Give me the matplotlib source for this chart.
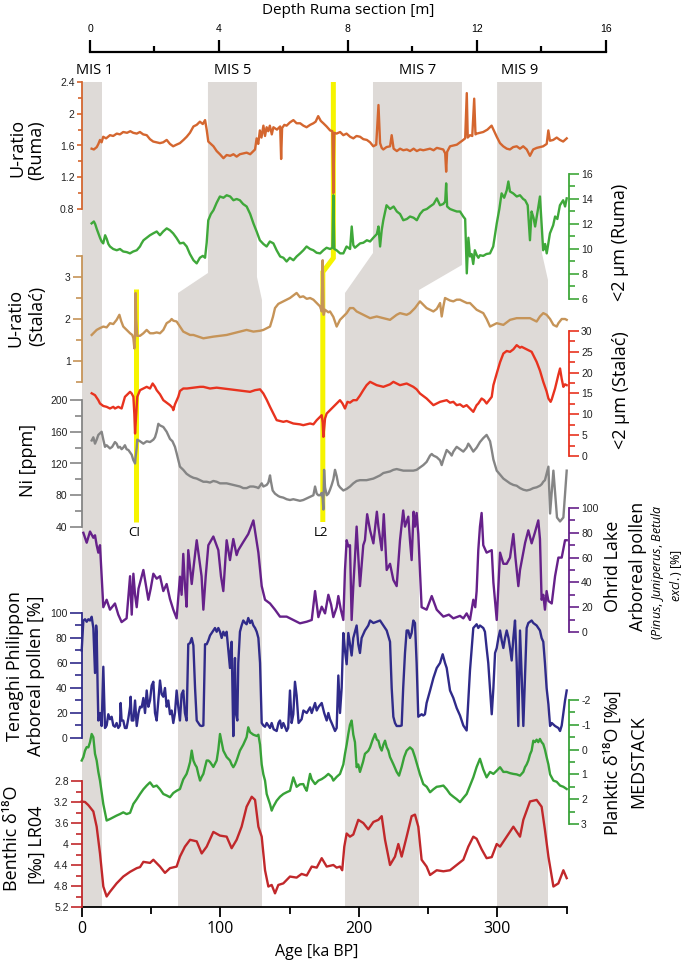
import matplotlib
matplotlib.use('Agg')
import matplotlib.pyplot as plt
from matplotlib.ticker import FixedLocator, FuncFormatter
from matplotlib.patches import Polygon
import numpy as np

plt.rcParams['font.family'] = ['Open Sans', 'DejaVu Sans']
plt.rcParams['axes.unicode_minus'] = False
plt.rcParams['mathtext.fontset'] = 'custom'
plt.rcParams['mathtext.it'] = 'Open Sans:italic'
plt.rcParams['mathtext.rm'] = 'Open Sans'

# ---------------- data ----------------
# Ruma section (x = depth in m)
ruma_u_depth = [0.05,0.12,0.21,0.26,0.31,0.36,0.41,0.50,0.62,0.72,
                0.83,0.93,1.03,1.15,1.25,1.34,1.45,1.55,1.65,1.76,
                1.86,1.96,2.07,2.17,2.27,2.38,2.48,2.58,2.68,2.79,
                2.90,3.00,3.10,3.21,3.31,3.41,3.50,3.57,3.62,3.67,
                3.75,3.83,3.93,4.03,4.14,4.24,4.35,4.45,4.55,4.65,
                4.75,4.86,4.97,5.07,5.12,5.17,5.22,5.27,5.32,5.38,
                5.43,5.48,5.53,5.58,5.64,5.69,5.80,5.90,5.93,5.96,
                6.03,6.10,6.20,6.31,6.41,6.52,6.62,6.72,6.83,6.93,
                7.00,7.08,7.16,7.24,7.34,7.45,7.52,7.55,7.58,7.65,
                7.76,7.86,7.96,8.07,8.17,8.27,8.38,8.48,8.59,8.69,
                8.79,8.88,8.95,9.00,9.05,9.10,9.20,9.31,9.36,9.42,
                9.52,9.62,9.72,9.83,9.93,10.04,10.14,10.24,10.34,10.45,
                10.55,10.66,10.76,10.86,10.96,11.02,11.05,11.08,11.17,11.27,
                11.38,11.48,11.58,11.64,11.69,11.72,11.79,11.86,11.92,11.96,
                12.00,12.10,12.20,12.33,12.46,12.54,12.62,12.72,12.82,12.93,
                13.03,13.13,13.24,13.34,13.44,13.55,13.65,13.75,13.86,13.96,
                14.06,14.17,14.22,14.27,14.37,14.48,14.58,14.68,14.79]
ruma_u = [1.56,1.55,1.58,1.62,1.67,1.64,1.71,1.69,1.73,1.72,
          1.75,1.74,1.77,1.76,1.78,1.76,1.75,1.77,1.74,1.73,
          1.68,1.65,1.64,1.63,1.64,1.67,1.62,1.59,1.61,1.63,
          1.67,1.71,1.76,1.84,1.86,1.90,1.87,1.92,1.80,1.65,
          1.62,1.59,1.53,1.49,1.44,1.48,1.47,1.49,1.46,1.49,
          1.50,1.51,1.49,1.53,1.55,1.69,1.62,1.79,1.70,1.85,
          1.72,1.83,1.78,1.85,1.74,1.83,1.80,1.84,1.43,1.82,
          1.86,1.85,1.89,1.92,1.88,1.88,1.85,1.83,1.86,1.88,
          1.90,1.97,1.91,1.88,1.84,1.79,1.78,1.00,1.76,1.75,
          1.77,1.73,1.75,1.71,1.69,1.72,1.71,1.68,1.67,1.64,
          1.59,1.61,2.11,1.63,1.57,1.55,1.58,1.59,1.73,1.56,
          1.53,1.56,1.54,1.55,1.53,1.56,1.53,1.55,1.54,1.55,
          1.56,1.54,1.57,1.56,1.55,1.50,1.27,1.52,1.59,1.60,
          1.61,1.64,1.67,1.69,2.26,1.70,1.73,1.72,2.19,1.74,
          1.75,1.76,1.77,1.80,1.85,1.78,1.71,1.63,1.59,1.56,
          1.55,1.58,1.59,1.56,1.59,1.55,1.47,1.55,1.57,1.58,
          1.59,1.62,1.79,1.66,1.67,1.70,1.67,1.65,1.69]

ruma_clay_depth = [0.05,0.12,0.16,0.21,0.26,0.31,0.36,0.41,0.47,0.52,
                   0.57,0.62,0.72,0.83,0.93,1.03,1.14,1.24,1.34,1.45,
                   1.55,1.60,1.66,1.76,1.86,1.96,2.07,2.17,2.27,2.38,
                   2.48,2.58,2.68,2.79,2.90,3.00,3.10,3.21,3.31,3.41,
                   3.50,3.57,3.62,3.67,3.75,3.83,3.93,4.03,4.14,4.24,
                   4.35,4.45,4.55,4.65,4.75,4.86,4.97,5.07,5.17,5.27,
                   5.38,5.48,5.58,5.69,5.79,5.90,6.00,6.10,6.20,6.31,
                   6.41,6.52,6.62,6.72,6.83,6.93,7.03,7.14,7.24,7.34,
                   7.45,7.52,7.55,7.58,7.65,7.76,7.86,7.96,8.07,8.12,
                   8.17,8.22,8.38,8.48,8.59,8.69,8.79,8.90,8.95,9.00,
                   9.05,9.10,9.20,9.31,9.42,9.52,9.62,9.72,9.83,9.93,
                   10.04,10.14,10.24,10.34,10.45,10.55,10.66,10.76,10.86,10.96,
                   11.02,11.05,11.08,11.17,11.27,11.38,11.48,11.58,11.64,11.69,
                   11.74,11.79,11.84,11.89,11.94,12.00,12.05,12.10,12.20,12.30,
                   12.41,12.51,12.62,12.70,12.77,12.85,12.93,12.98,13.03,13.13,
                   13.24,13.34,13.44,13.50,13.58,13.65,13.70,13.76,13.81,13.90,
                   13.96,14.01,14.06,14.12,14.17,14.27,14.37,14.43,14.50,14.58,
                   14.68,14.74,14.79]
ruma_clay = [12.05,12.2,12.0,11.6,11.25,10.9,10.6,10.45,11.1,10.8,
             10.4,10.2,10.0,9.9,10.0,9.8,9.75,9.65,9.8,9.9,
             10.2,10.45,10.7,10.9,11.1,11.25,11.4,11.1,11.4,11.65,
             11.5,11.25,10.9,10.45,10.5,10.2,9.6,9.1,8.85,9.3,
             9.45,9.3,10.5,12.3,12.8,13.1,13.7,14.2,14.1,14.3,
             14.2,13.9,14.0,13.9,13.6,13.4,12.8,12.05,11.4,10.7,
             10.4,10.2,10.6,10.45,9.9,9.4,9.3,9.0,9.3,9.1,
             9.4,9.65,9.9,10.2,10.0,9.9,9.7,9.65,9.9,10.1,
             10.0,10.1,14.3,10.0,9.9,9.65,9.65,10.2,10.0,11.8,
             10.3,10.1,10.45,10.5,10.7,10.6,10.9,11.2,11.8,10.2,
             11.5,12.3,13.5,13.2,13.4,13.0,12.8,12.3,12.4,12.6,
             12.5,12.3,12.8,13.1,13.2,13.4,13.6,14.05,13.5,13.6,
             13.8,15.25,13.4,13.2,13.1,13.0,13.0,12.6,12.4,8.05,
             10.9,9.4,9.6,8.8,9.9,9.5,9.3,9.5,9.45,9.6,
             9.65,10.2,12.05,13.2,14.45,14.1,14.7,15.4,14.6,14.45,
             14.2,14.3,14.0,13.9,13.5,10.7,13.0,12.5,11.8,13.2,
             14.2,12.0,9.9,10.4,9.65,11.25,11.9,12.6,12.4,13.5,
             13.9,13.4,14.05]

# Stalac section (x = age in ka)
stalac_u_age = [7.2,9.0,10.8,13.0,15.6,18.0,20.4,22.8,25.2,27.2,
                28.5,30.0,32.5,34.9,36.5,37.3,38.0,38.5,38.9,39.3,
                40.1,42.1,44.5,46.9,49.3,51.7,54.1,56.5,58.9,61.3,
                63.7,64.9,66.1,68.5,70.9,73.3,75.7,78.2,80.6,84.2,
                87.8,91.4,95.0,99.8,104.6,109.4,114.2,119.0,123.9,128.7,
                131.1,133.5,135.9,138.0,139.5,141.9,145.5,147.9,150.3,152.7,
                155.1,157.5,159.9,162.4,164.8,167.2,169.6,172.0,173.2,173.9,
                174.6,175.6,178.0,179.2,181.6,184.0,186.4,188.8,191.2,193.6,
                196.0,198.4,200.8,204.4,208.1,212.9,217.7,222.5,227.3,229.7,
                234.5,236.9,240.5,244.1,246.5,248.9,251.4,253.8,256.2,258.6,
                259.8,261.0,262.2,265.8,268.2,270.6,273.0,275.4,278.0,280.2,
                282.6,285.0,287.4,289.8,292.2,294.7,297.1,299.5,301.9,304.3,
                306.7,309.1,313.9,318.7,323.5,328.3,330.7,333.1,335.5,338.0,
                340.4,342.8,344.0,346.4,348.8,350.0]
stalac_u = [1.62,1.68,1.74,1.78,1.82,1.80,1.90,1.88,1.98,2.10,
            1.95,1.82,1.74,1.66,1.62,1.54,1.30,1.60,2.62,2.00,
            1.60,1.60,1.66,1.74,1.66,1.66,1.68,1.66,1.74,1.90,
            1.95,2.00,1.96,1.94,1.82,1.70,1.66,1.62,1.62,1.58,
            1.54,1.56,1.58,1.60,1.62,1.66,1.70,1.74,1.70,1.72,
            1.74,1.78,1.82,2.05,2.26,2.36,2.42,2.46,2.50,2.56,
            2.62,2.52,2.54,2.48,2.50,2.46,2.38,2.30,2.18,3.40,
            2.10,2.22,2.16,2.18,2.05,1.82,1.98,2.06,2.14,2.26,
            2.26,2.18,2.14,2.08,2.02,2.06,2.02,1.98,2.10,2.14,
            2.10,2.14,2.26,2.42,2.34,2.26,2.22,2.18,2.24,2.38,
            2.06,2.30,2.50,2.44,2.42,2.46,2.46,2.42,2.38,2.38,
            2.30,2.22,2.18,2.14,2.00,1.82,1.86,1.90,1.88,1.86,
            1.92,1.98,2.02,2.02,2.02,1.94,2.06,2.14,2.10,2.00,
            1.86,1.82,1.90,2.00,2.00,1.98]

stalac_clay_age = [7.2,9.6,12.0,13.2,15.6,18.0,20.4,22.8,24.0,26.4,
                   28.8,31.2,33.0,34.9,36.1,37.3,38.0,38.5,39.3,40.1,
                   42.1,44.5,46.9,49.3,51.2,52.9,54.1,56.5,58.9,61.3,
                   63.7,65.5,66.1,67.3,69.7,70.9,73.3,76.0,80.6,85.4,
                   87.8,92.6,97.4,102.2,107.0,111.8,116.6,121.5,125.1,128.7,
                   131.1,133.5,135.9,138.3,140.7,143.1,145.5,147.9,152.7,157.5,
                   159.9,162.4,164.8,167.2,169.6,172.0,173.2,173.9,174.4,175.6,
                   176.8,179.2,181.6,184.0,186.4,188.2,190.0,191.8,193.6,196.0,
                   198.4,200.8,203.2,205.6,208.1,210.5,212.9,215.3,217.7,220.1,
                   222.5,224.9,227.3,229.7,232.1,234.5,236.9,239.3,241.7,244.1,
                   246.5,248.9,251.4,253.8,256.2,258.6,261.0,263.4,265.8,268.2,
                   270.6,273.0,275.4,277.8,279.0,280.2,282.6,285.0,286.2,288.6,
                   290.4,292.2,295.9,297.1,299.5,301.9,304.3,306.7,309.1,311.5,
                   313.9,316.3,317.5,319.9,322.3,324.7,328.3,330.7,333.1,335.5,
                   336.8,338.4,339.2,341.6,344.0,345.2,346.4,347.6,348.8,350.0]
stalac_clay = [15.05,14.6,13.4,12.6,12.0,11.8,11.4,11.8,11.4,11.8,
               11.4,14.2,14.8,15.4,15.0,14.2,10.0,5.4,10.0,14.2,
               15.8,16.2,16.6,16.2,17.4,16.6,15.8,14.8,13.4,12.8,
               12.2,11.6,11.0,12.4,14.2,15.6,16.2,16.2,16.4,16.6,
               16.6,16.2,16.4,16.2,16.0,15.8,15.6,15.4,15.8,16.0,
               15.0,13.5,11.8,10.2,8.6,8.4,8.2,8.4,7.8,7.6,
               7.4,7.6,7.8,7.6,8.6,9.4,9.8,8.0,4.6,9.0,
               10.2,11.0,11.8,12.6,13.4,12.6,11.4,13.0,12.8,13.4,
               13.4,14.5,15.8,17.0,17.8,17.4,17.0,16.8,16.6,16.9,
               17.2,17.8,17.4,17.0,17.2,17.4,17.0,16.6,16.0,15.0,
               14.4,13.8,13.0,12.2,12.6,13.0,13.2,13.4,12.8,13.0,
               12.2,12.4,11.8,12.2,11.8,11.4,10.6,12.2,12.6,13.8,
               13.4,12.6,14.2,17.0,19.8,22.5,24.6,25.2,25.0,25.6,
               26.6,26.0,26.2,25.8,25.4,25.0,22.6,20.5,17.8,15.5,
               13.8,13.0,13.6,16.2,19.5,21.0,18.5,16.6,17.2,17.0]

ni_age = [7.2,8.4,9.6,10.8,12.0,13.2,14.4,15.6,16.8,18.0,
          20.4,22.0,24.0,25.2,26.4,27.6,28.8,30.0,31.2,32.4,
          33.7,34.9,36.1,37.3,38.0,38.5,38.9,39.7,40.1,42.1,
          44.5,46.9,49.3,51.7,52.9,54.1,55.3,56.5,58.9,61.3,
          63.7,65.5,67.3,68.5,70.9,73.3,75.7,78.2,80.6,83.0,
          85.4,87.8,90.2,92.6,95.0,97.4,99.8,102.2,104.6,107.0,
          109.4,111.8,114.2,116.6,119.0,121.5,123.9,126.3,127.5,128.7,
          129.9,131.1,132.3,133.5,134.7,135.9,136.5,137.8,139.5,141.9,
          143.1,145.5,147.9,150.3,152.7,155.1,157.5,159.9,162.4,164.8,
          166.0,167.2,168.4,169.6,170.8,172.0,173.2,173.9,174.4,174.9,
          175.6,176.8,178.0,179.2,180.4,181.6,182.8,184.0,185.2,186.4,
          188.8,191.2,193.6,196.0,198.4,200.8,203.2,205.6,208.1,210.5,
          212.9,215.3,217.7,220.1,222.5,224.9,227.3,229.7,232.1,234.5,
          236.9,239.3,241.7,244.1,246.5,248.9,251.4,252.6,253.8,256.2,
          258.6,259.8,261.0,263.4,265.8,267.0,268.2,270.6,273.0,275.4,
          277.8,279.0,280.2,282.6,285.0,287.4,289.8,292.2,294.7,295.9,
          297.1,299.5,301.9,304.3,306.7,309.1,311.5,313.9,316.3,318.7,
          321.1,323.5,325.9,328.3,330.7,332.0,333.1,334.3,336.8,338.0,
          340.4,343.0,345.2,347.6,350.0]
ni = [149,153,145,150,156,158,160,150,141,143,
      139,141,147,145,140,141,138,140,143,138,
      137,134,131,124,122,120,128,140,150,148,
      145,148,147,150,153,160,170,168,166,160,
      151,148,141,133,116,112,107,104,102,101,
      99,97,97,96,98,97,95,95,95,94,
      93,92,91,89,89,91,91,90,89,92,
      95,91,92,93,96,105,98,86,82,79,
      78,77,75,74,75,74,73,74,76,78,
      79,80,91,82,80,80,83,76,62,112,
      90,80,82,87,93,100,112,104,93,90,
      86,88,91,95,98,99,99,99,100,101,
      103,105,108,109,110,112,113,112,111,111,
      111,111,112,115,118,122,130,132,130,128,
      124,118,125,137,133,130,135,141,138,135,
      140,145,142,135,140,147,152,156,148,137,
      125,111,106,101,98,95,93,92,89,87,
      86,87,89,90,92,94,97,99,116,57,
      111,52,47,52,111]

ohrid_age = [1.2,3.6,6.0,8.4,9.6,10.8,12.0,13.2,15.6,18.0,
             20.4,24.0,26.4,28.8,30.0,32.4,34.9,35.5,36.1,37.3,
             38.5,39.7,41.0,44.5,46.0,48.1,49.8,51.7,54.1,56.5,
             58.9,61.3,63.7,66.1,68.5,70.9,72.1,73.3,74.5,75.7,
             76.9,79.4,81.0,83.0,86.5,87.8,89.5,91.4,95.0,98.6,
             100.5,102.2,104.6,107.0,109.4,111.8,113.0,116.6,120.2,123.9,
             127.5,129.9,132.3,135.9,139.5,143.1,147.9,152.7,157.5,162.4,
             166.0,168.4,170.8,173.2,175.6,178.0,180.0,181.6,184.0,185.2,
             187.0,188.8,190.0,191.2,192.4,193.6,194.8,196.0,197.2,198.4,
             200.8,203.2,204.4,206.0,208.1,210.5,213.0,214.1,216.5,218.0,
             220.1,222.5,224.9,227.3,229.7,232.0,233.3,235.7,236.9,238.1,
             239.5,240.5,241.7,242.9,245.3,248.9,252.6,256.2,261.0,265.0,
             268.2,273.0,275.4,277.8,280.2,282.6,284.0,285.0,286.2,287.4,
             288.6,289.8,292.2,295.9,297.1,299.5,301.9,304.3,306.7,309.1,
             311.5,313.0,315.1,316.3,318.7,320.0,322.3,324.7,327.0,329.5,
             330.7,331.9,333.1,334.3,335.5,336.8,339.2,341.6,344.0,346.4,
             348.8,350.0]
ohrid = [80,72,81,76,78,70,64,70,20,26,
         18,23,14,8,9,11,45,30,14,47,
         30,20,35,50,40,26,35,47,43,45,
         33,38.7,26.6,18,11,44.6,30,63,38,20.4,
         66,38.7,55,74,45,18,45,70,77,66,
         45,33,74,58,75,62,66,72.6,79,90,
         64,37,26,23,18,12.4,12.4,9.7,7,8.3,
         9.7,33,12,20.4,15,30,22,12,20,29,
         18,9.7,50,74,69,70,9.7,37,60,85,
         37,70,74,95,82,71.5,97,85,66,95,
         50,55,42,37,74,98,85,93,74,58,
         97,85,96,79,20,18,29,18,12.4,14,
         11,13,11,15,9.7,26,20,33,66,85,
         96,70,64,66,40,9.7,64,55,55,60,
         79,60,37,50,64,72,82,71.5,80,90,
         75,26,30,18,33,25,23,45,60,60,
         74,74]

tenaghi_age = [0.0,1.2,2.4,3.6,4.8,6.0,7.2,8.4,9.6,10.4,
               10.8,11.5,12.0,13.2,14.4,15.6,16.8,18.0,19.2,20.4,
               21.6,22.8,24.0,25.2,26.4,27.6,28.1,28.8,30.0,31.2,
               32.4,33.7,34.9,35.3,36.1,37.3,38.5,39.7,41.0,42.1,
               43.3,44.5,45.7,46.9,48.1,49.3,50.5,51.7,52.9,54.1,
               55.3,56.5,57.7,58.9,60.1,61.3,62.5,63.7,64.9,66.1,
               67.3,68.5,69.7,70.9,72.1,73.3,74.5,75.7,76.9,78.2,
               79.4,80.6,81.8,83.0,84.2,85.4,86.6,87.8,89.0,90.2,
               91.4,92.6,95.0,96.2,97.4,98.6,99.8,101.0,102.2,103.4,
               104.6,105.8,107.0,107.6,108.2,109.4,110.0,110.6,111.2,112.3,
               113.0,114.2,115.4,116.6,118.0,119.0,120.2,121.5,122.7,123.9,
               125.1,126.3,127.5,128.7,129.9,131.1,132.3,133.5,134.7,135.9,
               137.1,138.5,140.7,142.0,143.1,144.3,145.5,146.7,147.9,149.0,
               150.3,151.5,152.7,153.9,155.1,156.5,158.7,160.0,162.4,164.8,
               166.0,168.4,169.6,171.0,173.2,175.0,176.8,178.0,179.2,180.4,
               182.8,184.0,185.2,186.4,187.6,188.8,190.0,191.2,192.4,193.6,
               194.8,196.0,197.2,198.4,199.6,200.8,202.0,204.4,206.8,208.1,
               210.5,212.9,215.3,217.7,220.1,222.5,223.7,224.9,226.1,227.3,
               229.7,230.9,232.0,233.3,234.5,235.7,236.9,238.1,239.3,240.5,
               241.7,242.9,244.1,245.3,246.5,247.7,248.9,251.4,253.8,256.2,
               258.6,260.5,262.2,263.4,265.8,268.2,270.6,273.0,275.4,277.8,
               279.0,280.2,282.6,285.0,286.2,287.4,289.8,291.0,292.2,293.4,
               295.9,297.1,298.3,299.5,300.7,301.9,303.1,304.3,305.5,306.7,
               308.0,309.1,310.3,311.5,312.7,313.9,315.1,316.3,317.5,318.7,
               319.9,321.1,322.3,323.5,324.7,325.9,327.1,328.3,329.5,330.7,
               331.9,333.1,334.3,335.5,336.8,338.0,339.2,341.6,344.0,345.2,
               346.4,347.6,348.8,350.0]
tenaghi = [70,94,95,93,95,94,97,88,52,90,
           85,40,14,20,9.6,57,8,10,19,15,
           17,10,9,12,8,10,28,14,14,8,
           8,16,25,33,14,14,30,9.6,20,25,
           24.5,32,20,38,25,30,42,45,20,14,
           30,46,35,33,40,25,30,19,22,12,
           20,38,25,14,35,38,20,14,75,76,
           80,74,40,14,12,10,9.6,10,75,75,
           78,82,86,88,85,88,85,80,85,82,
           85,70,56,70,77,1.5,40,64,20,14,
           60,85,90,94,92,91,96,92,94,90,
           88,85,80,60,12,10,9,12,10,8,
           12,7,5.6,12,14,8,12,9,5.6,8,
           38,12,19,45,34,12,15,22,20,24.5,
           20,28,22,25,28,20,14,20,15,12,
           5.6,8,50,20,40,84,70,59,84,75,
           66,80,85,90,75,68,80,86,90,94,
           92,93,94,90,86,77,40,17,12,9.6,
           9.6,10,40,68,86,86,80,84,94,92,
           60,17,18,19,18,19,28,38,48,56,
           60,67,60,56,38,32,24,18,10,6,
           30,54,88,91,88,90,88,85,72,60,
           19,40,68,72,80,86,78,72,80,86,
           80,72,62,80,94,60,9.6,86,50,9.6,
           50,88,92,93,94,92,91,90,88,86,
           80,77,60,40,27,9.6,12,9.6,8,5.6,
           10,20,30,38]

medstack_age = [0.0,1.2,2.4,3.6,4.8,6.0,7.2,8.4,9.6,10.8,
                12.0,13.2,15.6,18.0,20.4,22.8,25.2,27.6,30.0,32.4,
                34.9,37.3,39.7,42.1,44.5,46.9,49.3,51.7,54.1,56.5,
                58.9,61.3,63.7,66.1,68.5,70.9,72.1,73.3,75.7,76.9,
                78.2,79.4,80.6,81.8,83.0,84.2,85.4,86.6,87.8,89.0,
                90.2,91.4,92.6,95.0,97.4,98.6,99.8,101.0,102.2,104.6,
                107.0,108.2,109.4,110.6,111.8,114.2,116.6,119.0,120.2,121.5,
                123.9,126.3,127.5,128.7,129.9,131.1,132.3,133.5,135.9,137.1,
                138.3,140.7,143.1,145.5,147.9,150.3,152.7,155.1,157.5,159.9,
                161.2,162.4,164.8,166.0,168.4,170.8,173.2,175.6,178.0,180.4,
                181.6,184.0,186.4,188.8,190.0,191.2,192.4,193.6,194.8,196.0,
                197.2,198.4,199.6,200.8,203.0,204.4,206.8,208.1,210.0,211.7,
                213.0,214.1,215.3,216.5,217.7,218.9,220.1,221.3,222.5,223.7,
                225.0,227.3,229.0,230.9,232.7,234.5,236.9,238.7,240.5,242.9,
                244.1,246.5,249.0,251.4,253.8,256.2,258.6,261.0,263.4,265.8,
                268.2,270.6,273.0,275.4,277.8,280.2,282.6,285.0,287.4,289.8,
                292.2,294.7,297.1,299.5,301.9,304.3,306.7,309.1,311.5,313.9,
                316.3,318.7,319.9,321.1,322.3,323.5,324.7,325.9,327.1,328.3,
                329.5,330.7,331.9,333.1,334.3,335.5,336.8,338.0,340.4,342.8,
                345.2,347.6,350.0]
medstack = [0.44,0.30,0.04,-0.1,-0.09,-0.3,-0.63,-0.5,0.17,0.44,
            0.9,1.25,2.2,2.86,2.8,2.73,2.66,2.6,2.53,2.6,
            2.55,2.19,2.0,1.79,1.6,1.45,1.32,1.5,1.45,1.6,
            1.79,1.85,1.92,1.75,1.66,1.59,1.4,1.2,0.98,0.77,
            0.5,0.04,0.44,0.6,0.71,1.0,1.25,1.1,0.98,0.7,
            0.44,0.44,0.5,0.7,0.44,0.0,-0.63,-0.3,0.04,0.3,
            0.44,0.6,0.71,0.6,0.44,0.04,-0.2,-0.5,-0.9,-0.7,
            -0.6,-0.55,-0.6,-0.2,0.6,1.0,1.25,1.79,2.2,2.46,
            2.3,2.06,1.9,1.79,1.72,1.66,1.12,1.5,1.4,1.39,
            1.55,1.66,0.98,1.2,1.39,1.25,1.19,1.1,0.98,1.1,
            1.25,1.1,0.98,0.6,0.17,-0.2,-0.63,-1.0,-1.17,-0.6,
            -0.3,0.71,0.6,0.9,0.5,0.17,0.05,-0.09,-0.4,-0.63,
            -0.4,-0.36,-0.1,0.04,-0.2,-0.36,-0.1,0.04,0.3,0.44,
            0.6,0.9,1.05,0.7,0.3,0.04,-0.09,0.0,0.3,0.77,
            1.0,1.39,1.5,1.72,1.6,1.5,1.48,1.45,1.6,1.79,
            1.9,2.0,2.12,1.95,1.79,1.45,1.12,0.7,0.37,0.8,
            1.12,0.9,0.98,0.85,0.71,0.9,0.9,0.95,0.98,1.0,
            1.05,0.9,0.71,0.6,0.44,0.2,0.04,-0.36,-0.3,-0.4,
            -0.3,-0.43,-0.3,-0.22,0.0,0.3,0.6,1.0,1.25,1.3,
            1.45,1.5,1.59]

lr04_age = [0.0,2.4,4.8,8.4,10.8,13.2,15.6,18.0,20.4,25.2,
            30.0,34.9,39.7,42.1,44.5,49.3,51.7,56.5,60.1,63.7,
            68.5,70.9,74.5,78.2,83.0,86.6,90.2,95.0,99.8,104.6,
            108.2,111.8,115.4,119.0,122.7,125.1,127.5,129.9,132.3,134.7,
            137.1,139.5,141.9,145.5,150.3,155.1,158.7,162.4,166.0,169.6,
            173.2,176.8,181.6,184.0,186.4,188.0,189.5,191.2,193.6,196.0,
            199.6,203.2,206.8,210.5,214.1,216.5,218.9,222.5,226.1,228.5,
            230.9,234.5,238.1,240.5,242.9,245.3,248.9,251.4,256.2,261.0,
            265.8,270.6,275.4,279.0,282.6,285.0,288.6,292.2,295.9,299.5,
            301.9,306.7,311.5,316.3,318.7,323.5,328.3,331.9,334.3,336.8,
            340.4,344.0,347.6,350.0]
lr04 = [3.19,3.2,3.26,3.38,3.67,4.18,4.81,5.0,4.91,4.75,
        4.62,4.53,4.46,4.44,4.34,4.36,4.30,4.43,4.55,4.46,
        4.43,4.24,4.05,3.92,3.95,4.18,4.05,3.77,3.84,3.86,
        4.08,3.92,3.67,3.29,3.1,3.16,3.67,3.86,4.5,4.81,
        4.78,4.94,4.78,4.75,4.62,4.64,4.57,4.6,4.43,4.45,
        4.27,4.43,4.4,4.45,4.43,4.5,4.05,3.8,3.86,3.82,
        3.54,3.6,3.72,3.58,3.54,3.47,3.92,4.4,4.24,4.0,
        4.24,3.86,3.47,3.44,3.67,4.3,4.43,4.59,4.5,4.52,
        4.5,4.4,4.3,4.05,3.86,3.9,4.1,4.27,4.25,4.0,
        4.05,3.86,3.67,3.86,3.54,3.19,3.16,3.29,3.73,4.24,
        4.81,4.75,4.5,4.65]

# marine isotope stages: age bounds (lower part) and Ruma depth bounds (upper part)
mis_labels = ['MIS 1', 'MIS 5', 'MIS 7', 'MIS 9']
mis_age = [(0.0, 14.4), (69.5, 130.1), (190.0, 243.4), (299.7, 336.5)]
mis_depth = [(-0.258, 0.363), (3.66, 5.18), (8.78, 11.54), (12.63, 14.02)]
# tephra layers
tephra_labels = ['CI', 'L2']
tephra_age = [39.0, 174.0]
tephra_ruma_depth = 7.55
depth_ticks = [0, 4, 8, 12, 16]
age_ticks = [0, 100, 200, 300]

# ---------------- layout ----------------
W, H = 685, 963
fig = plt.figure(figsize=(W / 100, H / 100), dpi=100)
X0, X1 = 81.7, 566.7          # pixel span of age 0..350
T, B = 82, 907                 # vertical pixel span of data panels
D0, D16 = 90.0, 605.7          # pixel span of depth 0..16 m
PPM = (D16 - D0) / 16.0
AGE_MAX = 350.0


def fx(px):
    return px / W


def fy(py):
    return 1 - py / H


def px2pt(p):
    return p * 72 / 100


pos = [fx(X0), fy(B), fx(X1) - fx(X0), fy(T) - fy(B)]


def depth_to_age(d):
    return (D0 + d * PPM - X0) / (X1 - X0) * AGE_MAX


# background axes: bands, tephra lines, age axis
bg = fig.add_axes(pos)
bg.set_xlim(0, AGE_MAX)
bg.set_ylim(B, T)
for s in ['left', 'right', 'top']:
    bg.spines[s].set_visible(False)
bg.spines['bottom'].set_linewidth(1.3)
bg.set_yticks([])
bg.xaxis.set_major_locator(FixedLocator(age_ticks))
bg.xaxis.set_minor_locator(FixedLocator([50, 150, 250, 350]))
bg.tick_params(axis='x', which='major', length=px2pt(10), width=1.3, labelsize=11.5, pad=3)
bg.tick_params(axis='x', which='minor', length=px2pt(7), width=1.3)

band_col = '#dedad7'
slants = [((280, 280), (280, 280)), ((273, 293), (277, 300)),
          ((253, 293), (265, 290)), ((270, 270), (253, 280))]
for (a0, a1), (d0, d1), ((yl1, yl2), (yr1, yr2)) in zip(mis_age, mis_depth, slants):
    t0, t1 = depth_to_age(d0), depth_to_age(d1)
    poly = Polygon([(t0, T), (t1, T), (t1, yr1), (a1, yr2), (a1, B), (a0, B),
                    (a0, yl2), (t0, yl1)], closed=True, fc=band_col, ec='none', zorder=0)
    bg.add_patch(poly)

for lab, (d0, d1) in zip(mis_labels, mis_depth):
    bg.text((depth_to_age(d0) + depth_to_age(d1)) / 2 + (2 if lab == 'MIS 1' else 0), 70, lab,
            ha='center', va='center', fontsize=10.5, clip_on=False)

yel = '#f6f400'
ylw = px2pt(5)
# CI
bg.plot([tephra_age[0], tephra_age[0]], [289, 522], color=yel, lw=ylw, solid_capstyle='butt', zorder=1)
# L2 (Ruma depth -> Stalac age)
ra = depth_to_age(tephra_ruma_depth)
bg.plot([ra, ra, tephra_age[1], tephra_age[1]], [T, 258, 272, 522], color=yel, lw=ylw,
        solid_capstyle='butt', solid_joinstyle='miter', zorder=1)
for lab, a in zip(tephra_labels, tephra_age):
    bg.text(a - 1, 532, lab, ha='center', va='center', fontsize=9.5)

# depth axis on top
dax = fig.add_axes([fx(D0), fy(52), fx(D16) - fx(D0), 0.0005])
dax.patch.set_visible(False)
dax.set_xlim(0, 16)
for s in ['left', 'right', 'bottom']:
    dax.spines[s].set_visible(False)
dax.spines['top'].set_linewidth(1.6)
dax.set_yticks([])
dax.xaxis.set_ticks_position('top')
dax.xaxis.set_major_locator(FixedLocator(depth_ticks))
dax.xaxis.set_minor_locator(FixedLocator([2, 6, 10, 14]))
dax.tick_params(axis='x', which='major', length=px2pt(12), width=1.6, labelsize=7.5, pad=4,
                labelfontfamily='Liberation Sans')
dax.tick_params(axis='x', which='minor', length=px2pt(6), width=1.6)
fig.text(fx(348), fy(10), 'Depth Ruma section [m]', ha='center', va='center', fontsize=11)

fmt = FuncFormatter(lambda v, p: '%g' % round(v, 3))


def series_axes(side, color, v1, p1, v2, p2, lo, hi, major, mstep, tmaj, tmin, xlim=(0, AGE_MAX)):
    ax = fig.add_axes(pos)
    ax.patch.set_visible(False)
    ax.set_xlim(*xlim)
    slope = (v2 - v1) / (p2 - p1)
    ax.set_ylim(v1 + (B - p1) * slope, v1 + (T - p1) * slope)
    for s in ax.spines.values():
        s.set_visible(False)
    sp = ax.spines[side]
    sp.set_visible(True)
    sp.set_color(color)
    sp.set_linewidth(1.3)
    sp.set_bounds(lo, hi)
    if side == 'right':
        sp.set_position(('outward', 1.7))
    ax.xaxis.set_visible(False)
    ax.yaxis.set_ticks_position(side)
    ax.yaxis.set_label_position(side)
    ax.yaxis.set_major_locator(FixedLocator(major))
    ax.yaxis.set_minor_locator(FixedLocator(np.arange(lo, hi + mstep / 100, mstep)))
    ax.yaxis.set_major_formatter(fmt)
    ax.tick_params(axis='y', which='major', length=px2pt(tmaj), width=1.2, color=color,
                   labelsize=7.5, pad=1.5, labelcolor='#222222', labelfontfamily='Liberation Sans')
    ax.tick_params(axis='y', which='minor', length=px2pt(tmin), width=1.2, color=color)
    return ax


LW = 1.7
ruma_xlim = ((X0 - D0) / PPM, (X1 - D0) / PPM)

c_or = '#d4662f'
a1 = series_axes('left', c_or, 2.4, 82, 0.8, 209, 0.8, 2.4, [0.8, 1.2, 1.6, 2.0, 2.4], 0.2, 5, 4,
                 xlim=ruma_xlim)
a1.plot(ruma_u_depth, ruma_u, color=c_or, lw=LW, clip_on=False)

c_gr = '#3fa83a'
a2 = series_axes('right', c_gr, 16, 174, 6, 299, 6, 16, [6, 8, 10, 12, 14, 16], 1, 10, 6,
                 xlim=ruma_xlim)
a2.plot(ruma_clay_depth, ruma_clay, color=c_gr, lw=LW, clip_on=False)

c_tan = '#c69458'
a3 = series_axes('left', c_tan, 3, 277, 1, 361, 0.5, 3.5, [1, 2, 3], 0.5, 9, 6)
a3.plot(stalac_u_age, stalac_u, color=c_tan, lw=LW, clip_on=False)

c_red = '#e8331f'
a4 = series_axes('right', c_red, 30, 331, 0, 456, 0, 30, [0, 5, 10, 15, 20, 25, 30], 2.5, 10, 6)
a4.plot(stalac_clay_age, stalac_clay, color=c_red, lw=LW, clip_on=False)

c_gy = '#858585'
a5 = series_axes('left', c_gy, 200, 400, 40, 527, 40, 200, [40, 80, 120, 160, 200], 20, 12, 7)
a5.plot(ni_age, ni, color=c_gy, lw=LW, clip_on=False)

c_pu = '#66218a'
a6 = series_axes('right', c_pu, 100, 508, 0, 632, 0, 100, [0, 20, 40, 60, 80, 100], 10, 10, 6)
a6.plot(ohrid_age, ohrid, color=c_pu, lw=LW, clip_on=False)

c_nv = '#302b8a'
a7 = series_axes('left', c_nv, 100, 613, 0, 738, 0, 100, [0, 20, 40, 60, 80, 100], 10, 12, 7)
a7.plot(tenaghi_age, tenaghi, color=c_nv, lw=LW, clip_on=False)

c_g2 = '#38a238'
a8 = series_axes('right', c_g2, -2, 700, 3, 824, -2, 3, [-2, -1, 0, 1, 2, 3], 0.5, 10, 6)
a8.plot(medstack_age, medstack, color=c_g2, lw=LW, clip_on=False)

c_br = '#c1282b'
a9 = series_axes('left', c_br, 2.8, 781, 5.2, 907, 2.8, 5.2, [2.8, 3.2, 3.6, 4.0, 4.4, 4.8, 5.2],
                 0.2, 11, 6)
a9.plot(lr04_age, lr04, color=c_br, lw=LW, clip_on=False)


# axis titles
def vtext(x, y, s, size=13, **kw):
    fig.text(fx(x), fy(y), s, rotation=90, ha='center', va='center', fontsize=size, **kw)


vtext(17, 148, 'U-ratio')
vtext(36, 150, '(Ruma)')
vtext(15, 318, 'U-ratio')
vtext(37, 316, '(Stalać)')
vtext(28, 460, 'Ni [ppm]')
vtext(15, 666, 'Tenaghi Philippon')
vtext(36, 676, 'Arboreal pollen [%]')
vtext(12, 838, 'Benthic δ¹⁸O')
vtext(37, 845, '[‰] LR04')

vtext(620, 242, '<2 µm (Ruma)')
vtext(621, 390, '<2 µm (Stalać)')
vtext(613, 566, 'Ohrid Lake')
vtext(638, 566, 'Arboreal pollen')
vtext(658, 572, r'($\it{Pinus}$, $\it{Juniperus}$, $\it{Betula}$', size=9)
vtext(676, 575, r'$\it{excl.}$) [%]', size=9)
vtext(613, 763, 'Planktic δ¹⁸O [‰]')
vtext(638, 762, 'MEDSTACK')

fig.text(fx(317), fy(952), 'Age [ka BP]', ha='center', va='center', fontsize=11.5)

fig.savefig('out.png', dpi=100)
